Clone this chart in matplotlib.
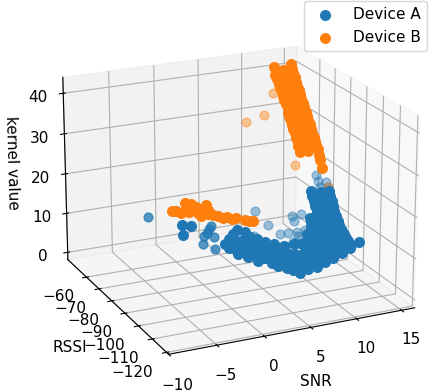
import matplotlib
matplotlib.use('Agg')
import matplotlib.pyplot as plt

# Device A - near points on the left, all at RSSI -110
snr_a_left = [-6.82,-5.89,-6.75]
kernel_a_left = [23.79,23.14,21.42]
rssi_a_left = [-110] * len(snr_a_left)

# Device A - half faded points, all at RSSI -95
snr_a_mid = [-8.09,-1.65,-1.9,-2.18,-1.19,-2.36,-1.05,-1.46]
kernel_a_mid = [22.05,16.77,16.04,15.34,14.73,13.37,11.67,17.52]
rssi_a_mid = [-95] * len(snr_a_mid)

# Device A - far scattered points
snr_a_far = [8.27,9.77,11.16,12.14,13.11,13.31,12.59,13.61,12.79,14.1,15.3,15.55,15.82,16.5,15.9,8.2,12.74,13.12]
rssi_a_far = [-65,-65,-65,-65,-65,-65,-65,-65,-65,-65,-65,-65,-65,-65,-70,-65,-65,-65]
kernel_a_far = [9.36,5.25,2.4,2.39,2.29,1.18,6.48,6.63,5.1,2.45,16.08,14.52,12.85,14.02,14.1,3.07,-0.35,-0.5]

# Device A - rising ridges on the right
snr_a_ridge = [14.22,14.38,14.54,14.67,14.84,15.04,15.25,15.45,15.69,15.97,16.25,15.64,15.94,15.95,
               13.28,13.4,13.53,13.65,13.78,13.98,14.19,14.39,14.6,14.84,15.12,15.4,15.72,
               12.18,12.3,12.47,12.63,12.8,12.93,13.09,13.29,13.5,13.74,14.03,14.31,14.63,
               12.03,12.11,12.23,12.36,12.53,12.73,12.97,13.21,13.46,13.73,14.05,
               11.67,11.87,12.07,12.27,12.56,12.87]
rssi_a_ridge = [-80,-80,-80,-80,-80,-80,-80,-80,-80,-80,-80,-85,-85,-90,
                -80,-80,-80,-80,-80,-80,-80,-80,-80,-80,-80,-80,-80,
                -80,-80,-80,-80,-80,-80,-80,-80,-80,-80,-80,-80,-80,
                -80,-80,-80,-80,-80,-80,-80,-80,-80,-80,-80,
                -80,-80,-80,-80,-80,-80]
kernel_a_ridge = [16.48,15.13,13.8,12.46,11.12,9.77,8.41,7.31,6.11,4.9,3.77,4.47,3.42,5.6,
                  16.39,15.06,13.74,12.41,11.08,9.73,8.37,7.02,5.66,4.46,3.33,2.29,1.23,
                  17.05,15.81,14.56,13.21,11.87,10.54,9.2,7.84,6.49,5.12,3.73,2.35,0.95,
                  10.44,9.39,8.23,7.16,5.99,4.89,3.69,2.49,1.38,0.43,-0.55,
                  6.3,4.95,3.77,2.67,1.45,0.31]

# Device A - low arc, all at RSSI -85
snr_a_arc = [1.6,2.1,2.48,2.95,3.82,4.39,5.15,6.1,7.05,8.2,9.34,10.3,
             2.09,2.67,3.43,4.19,4.95,5.72,6.66,7.62,8.57,9.52,10.48,11.43,12.39,
             2.47,3.43,4.37,5.33,6.28,7.23,8.18,9.13,10.09,11.04,12.0,12.96,13.91,14.88,
             3.11,4.18,5.32,6.09,6.84,7.6,8.56,9.31,10.08,11.03,11.99,12.95,13.91,14.87,15.83,
             4.94,5.71,6.66,7.8,8.76,9.71,10.67,11.62,12.59,7.25,8.38,9.32,10.28,11.23,12.18,13.15,14.1,15.07,3.81,3.24,4.76]
kernel_a_arc = [9.02,10.11,11.23,12.16,11.32,9.92,8.95,8.0,6.96,6.1,6.09,5.73,
                7.99,8.79,9.18,8.46,7.33,6.61,5.58,4.79,4.26,3.65,3.54,3.61,3.42,
                7.84,7.48,6.45,5.49,4.54,3.5,2.54,1.67,0.89,1.04,1.52,2.18,2.84,3.58,
                6.16,4.82,3.55,3.93,2.37,1.24,0.28,-0.51,-1.4,-0.91,-0.68,0.32,0.97,1.88,2.78,
                5.21,5.34,4.14,2.86,2.92,2.56,2.2,2.51,4.01,5.2,3.49,0.59,-0.37,0.12,0.35,1.09,1.91,2.65,7.34,8.4,8.25]
rssi_a_arc = [-85] * len(snr_a_arc)

# Device B - tall band at the back
snr_b_band = [11.18,11.36,11.6,11.8,11.9,12.1,12.3,12.4,12.6,12.8,12.9,13.0,13.2,13.3,13.5,13.7,13.8,14.0,14.1,14.28,
              12.24,12.4,12.6,12.7,12.9,13.0,13.2,13.4,13.5,13.7,13.8,14.0,14.2,14.3,14.5,14.6,14.8,15.0,15.1,15.29,
              12.24,12.4,12.56,12.73,12.89,13.05,13.21,13.37,13.53,13.7,13.86,14.02,14.18,14.35,14.51,14.67,14.83,15.0,15.16,15.32,15.48,15.64,15.81,15.99]
rssi_b_band = [-60]*20 + [-60]*20 + [-65]*24
kernel_b_band = [43.59,41.6,40.4,39.2,38.2,37.1,36.0,34.9,33.8,32.7,31.6,30.5,29.4,28.3,27.2,26.1,25.0,23.9,22.8,21.08,
                 42.37,41.0,39.9,38.9,37.8,36.7,35.6,34.5,33.4,32.3,31.2,30.1,29.0,27.9,26.8,25.7,24.6,23.5,22.4,20.98,
                 45.0,43.85,42.77,41.6,40.5,39.4,38.3,37.2,36.1,34.9,33.8,32.7,31.6,30.5,29.4,28.2,27.15,26.0,24.95,23.8,22.7,21.3,19.8,17.8]

# Device B - faded stragglers
snr_b_far = [11.1,10.04,8.06,13.7,15.9]
rssi_b_far = [-60,-60,-60,-60,-70]
kernel_b_far = [37.0,31.87,30.8,18.06,14.1]

# Device B - short band on the left, all at RSSI -108
snr_b_left = [-7.55,-6.59,-6.2,-5.5,-5.72,-4.84,-3.99,-3.79,-4.49,-3.27,-2.74,-1.76,-0.81,0.07,0.95,-5.38,-4.15,-3.44,-2.21,-1.26,0.49,-6.08,-7.13,-5.04,-3.8]
kernel_b_left = [26.87,25.97,28.1,27.69,25.8,25.33,26.9,24.7,24.57,24.35,23.77,23.33,22.67,21.95,21.23,26.47,25.78,24.57,23.18,22.59,21.55,26.73,26.55,26.73,25.73]
rssi_b_left = [-108] * len(snr_b_left)

fig = plt.figure(figsize=(4.3, 3.9), dpi=100)
ax = fig.add_axes([0.01, -0.032, 1.055, 1.055], projection='3d')

# solid clusters are one scatter each, faded points get their own alpha
ax.scatter(snr_a_far, rssi_a_far, kernel_a_far, s=40, color='C0', alpha=0.42, depthshade=False)
ax.scatter(snr_a_mid, rssi_a_mid, kernel_a_mid, s=40, color='C0', alpha=0.75, depthshade=False)
ax.scatter(snr_a_ridge + snr_a_arc + snr_a_left, rssi_a_ridge + rssi_a_arc + rssi_a_left, kernel_a_ridge + kernel_a_arc + kernel_a_left,
           s=48, color='C0', depthshade=False, label='Device A')
ax.scatter(snr_b_far, rssi_b_far, kernel_b_far, s=40, color='C1', alpha=0.42, depthshade=False)
ax.scatter(snr_b_band + snr_b_left, rssi_b_band + rssi_b_left, kernel_b_band + kernel_b_left,
           s=48, color='C1', depthshade=False, label='Device B')

ax.view_init(elev=20, azim=-115)
ax.set_xlim(-10, 16.5)
ax.set_ylim(-121.4, -44.6)
ax.set_zlim(-1.9, 43.9)
ax.set_xticks([-10, -5, 0, 5, 10, 15])
ax.set_yticks([-120, -110, -100, -90, -80, -70, -60])
ax.set_zticks([0, 10, 20, 30, 40])
ax.tick_params(labelsize=11)
ax.tick_params(axis='x', pad=4)
ax.tick_params(axis='y', pad=0)
for t in ax.get_yticklabels():
    t.set_ha('right')
ax.set_xlabel('SNR', fontsize=11, labelpad=6)
ax.set_ylabel('RSSI', fontsize=11, labelpad=8)
ax.set_zlabel('kernel value', fontsize=11)
ax.legend(loc='upper right', bbox_to_anchor=(1.0, 1.005), bbox_transform=fig.transFigure, fontsize=11, borderaxespad=0.2)
fig.savefig('out.png', dpi=100)
